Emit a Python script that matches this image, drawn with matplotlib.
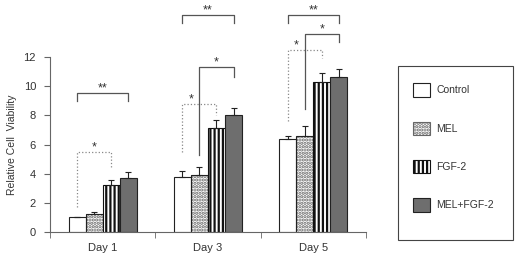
import numpy as np
import matplotlib
matplotlib.use('Agg')
import matplotlib.pyplot as plt
from matplotlib.patches import Patch, Rectangle

plt.rcParams['font.family'] = ['Liberation Sans', 'DejaVu Sans']
plt.rcParams['hatch.linewidth'] = 1.6

days = ['Day 1', 'Day 3', 'Day 5']
groups = ['Control', 'MEL', 'FGF-2', 'MEL+FGF-2']
# средние значения и ошибки (только вверх)
vals = {'Control':   [1.0, 3.75, 6.35],
        'MEL':       [1.25, 3.9, 6.55],
        'FGF-2':     [3.2, 7.1, 10.3],
        'MEL+FGF-2': [3.7, 8.0, 10.65]}
errs = {'Control':   [0.05, 0.4, 0.25],
        'MEL':       [0.15, 0.55, 0.7],
        'FGF-2':     [0.35, 0.6, 0.6],
        'MEL+FGF-2': [0.4, 0.5, 0.5]}

# скобки значимости: день, бар1, бар2, верх, низ левой ножки, низ правой, стиль, метка, где звёздочка
br_day   = [0, 0, 1, 1, 1, 2, 2, 2]
br_i     = [0, 0, 0, 0, 1, 0, 1, 0]
br_j     = [2, 3, 2, 3, 3, 2, 3, 3]
br_top   = [5.5, 9.55, 8.78, 14.9, 11.34, 12.5, 13.6, 14.9]
br_left  = [1.7, 8.95, 5.5, 14.3, 5.3, 7.6, 8.4, 14.3]
br_right = [4.4, 8.95, 8.0, 14.3, 10.65, 11.9, 13.05, 14.3]
br_ls    = [':', '-', ':', '-', '-', ':', '-', '-']
br_lab   = ['*', '**', '*', '**', '*', '*', '*', '**']
br_star  = [1.0, 1.5, 0.5, 1.5, 2.0, 0.5, 2.0, 1.5]

fig = plt.figure(figsize=(5.19, 2.54), dpi=100)
ax = fig.add_axes([0.0963, 0.0866, 0.6087, 0.689])

w = 0.162
x = np.arange(len(days))
off = (np.arange(4) - 1.5) * w
ec = '#222222'

for k, g in enumerate(groups):
    xs = x + off[k]
    if g == 'Control':
        ax.bar(xs, vals[g], w, color='white', edgecolor=ec, linewidth=0.8)
    elif g == 'MEL':
        ax.bar(xs, vals[g], w, color='white', edgecolor='#666666', hatch='.....', linewidth=0)
        ax.bar(xs, vals[g], w, fill=False, edgecolor=ec, linewidth=0.8)
    elif g == 'FGF-2':
        ax.bar(xs, vals[g], w, color='white', edgecolor='#111111', hatch='||||', linewidth=0.8)
    else:
        ax.bar(xs, vals[g], w, color='#6e6e6e', edgecolor=ec, linewidth=0.8)
    e = np.array(errs[g])
    ax.errorbar(xs, vals[g], yerr=[np.zeros_like(e), e], fmt='none', ecolor=ec,
                elinewidth=0.8, capsize=2.5, capthick=0.8)

for n in range(len(br_day)):
    x1 = x[br_day[n]] + off[br_i[n]]
    x2 = x[br_day[n]] + off[br_j[n]]
    c = '#888888' if br_ls[n] == ':' else '#555555'
    ax.plot([x1, x1, x2, x2], [br_left[n], br_top[n], br_top[n], br_right[n]],
            ls=br_ls[n], color=c, lw=0.9, clip_on=False)
    xt = x[br_day[n]] + off[0] + br_star[n] * w
    ax.text(xt, br_top[n] + 0.3, br_lab[n], ha='center', va='center',
            fontsize=9, color='#333333', clip_on=False)

ax.set_xlim(-0.5, 2.5)
ax.set_ylim(0, 12)
ax.set_yticks(range(0, 13, 2))
ax.set_xticks(x)
ax.set_xticklabels(days)
ax.set_xticks([-0.5, 0.5, 1.5, 2.5], minor=True)
ax.tick_params(axis='x', which='major', length=0, pad=8, labelsize=8, labelcolor='#333333')
ax.tick_params(axis='x', which='minor', length=4, color='#666666', direction='out')
ax.tick_params(axis='y', length=4, pad=6, color='#666666', labelsize=8, labelcolor='#333333')
for s in ['top', 'right']:
    ax.spines[s].set_visible(False)
for s in ['left', 'bottom']:
    ax.spines[s].set_color('#666666')
    ax.spines[s].set_linewidth(0.8)
ax.set_ylabel('Relative Cell  Viability', fontsize=7.5, color='#333333', labelpad=5)

# рамка легенды
fig.patches.append(Rectangle((398 / 519, 1 - 240 / 254), 115 / 519, 174 / 254,
                             transform=fig.transFigure, fill=False,
                             edgecolor='#444444', lw=0.8))
handles = [Patch(facecolor='white', edgecolor=ec, lw=0.8),
           Patch(facecolor='white', edgecolor='#666666', hatch='.....', lw=0.8),
           Patch(facecolor='white', edgecolor='#111111', hatch='||||', lw=0.8),
           Patch(facecolor='#6e6e6e', edgecolor=ec, lw=0.8)]
leg = fig.legend(handles, groups, loc='upper left', bbox_to_anchor=(408 / 519, 1 - 78 / 254),
                 fontsize=7.5, frameon=False,
                 handlelength=1.6, handleheight=1.6, labelspacing=2.4, borderpad=0.5,
                 handletextpad=0.6, borderaxespad=0)
for t in leg.get_texts():
    t.set_color('#333333')

fig.savefig('out.png', dpi=100)
